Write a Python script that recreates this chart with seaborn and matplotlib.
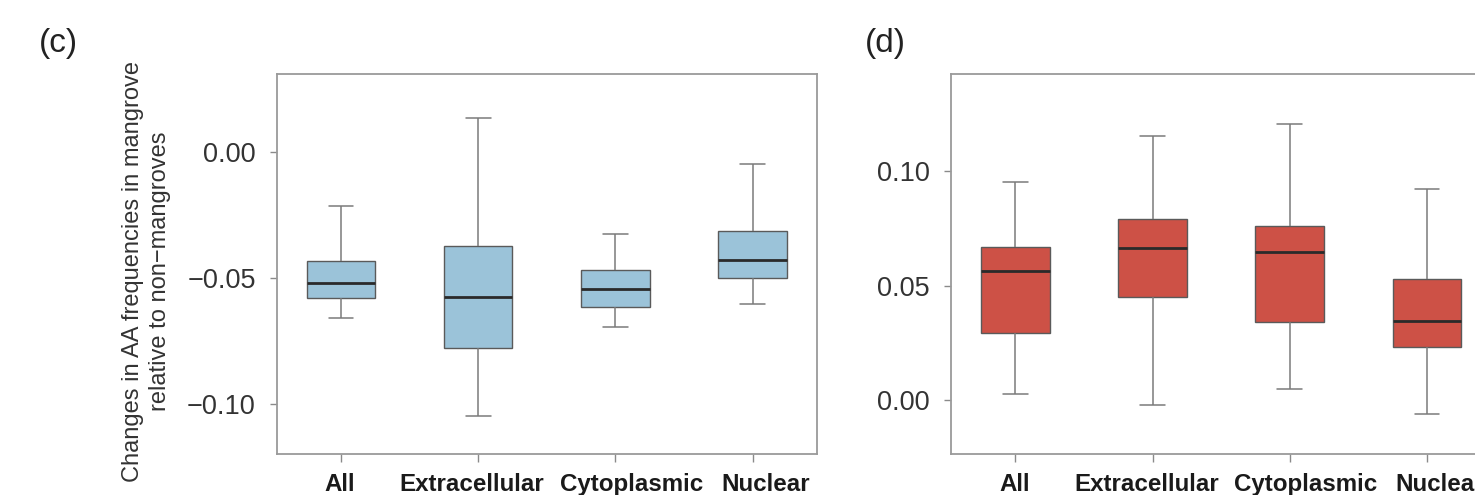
import numpy as np
import pandas as pd
import matplotlib
matplotlib.use("Agg")
import matplotlib.pyplot as plt
import matplotlib.transforms as mtransforms
import seaborn as sns

categories = ["All", "Extracellular", "Cytoplasmic", "Nuclear"]

# Panel (c): five-number summaries
c_low = [-0.0656, -0.1046, -0.0692, -0.0603]
c_q1 = [-0.0579, -0.0779, -0.0614, -0.0500]
c_med = [-0.0520, -0.0573, -0.0544, -0.0427]
c_q3 = [-0.0431, -0.0372, -0.0467, -0.0313]
c_high = [-0.0213, 0.0138, -0.0325, -0.0045]

# Panel (d)
d_low = [0.0026, -0.0018, 0.0048, -0.0061]
d_q1 = [0.0293, 0.0452, 0.0344, 0.0233]
d_med = [0.0563, 0.0667, 0.0646, 0.0347]
d_q3 = [0.0671, 0.0792, 0.0759, 0.0530]
d_high = [0.0953, 0.1153, 0.1205, 0.0921]

c_ticks = [0.00, -0.05, -0.10]
d_ticks = [0.00, 0.05, 0.10]

ylabel = "Changes in AA frequencies in mangrove\nrelative to non\u2212mangroves"

# small horizontal nudges (pixels) of the category labels, as in the source
label_nudge_px = [-1, -6, 16, 13]


def long_frame(low, q1, med, q3, high):
    rows = []
    for i, cat in enumerate(categories):
        for v in (low[i], q1[i], med[i], q3[i], high[i]):
            rows.append({"cat": cat, "val": v})
    return pd.DataFrame(rows)


df_c = long_frame(c_low, c_q1, c_med, c_q3, c_high)
df_d = long_frame(d_low, d_q1, d_med, d_q3, d_high)

sns.set_style("white")
plt.rcParams["font.family"] = ["Liberation Sans", "DejaVu Sans"]

fig = plt.figure(figsize=(14.75, 4.95), dpi=100)
ax_c = fig.add_axes([0.1875, 0.0828, 0.3664, 0.7677])
ax_d = fig.add_axes([0.6447, 0.0828, 0.3664, 0.7677])


def draw(ax, df, color, ylim, ticks):
    sns.boxplot(
        data=df, x="cat", y="val", order=categories, ax=ax,
        color=color, saturation=1, width=0.5, whis=(0, 100),
        linecolor="#5a5a5a", linewidth=1.0,
        boxprops=dict(edgecolor="#5a5a5a", linewidth=1.0),
        whiskerprops=dict(color="#7a7a7a", linewidth=1.1),
        capprops=dict(color="#7a7a7a", linewidth=1.1),
        medianprops=dict(color="#2a2a2a", linewidth=2.0),
        capwidths=0.18,
    )
    ax.set_xlim(-0.47, 3.47)
    ax.set_ylim(*ylim)
    ax.set_yticks(ticks)
    ax.set_yticklabels([f"{t:.2f}".replace("-", "\u2212") for t in ticks])
    ax.set_xticks(range(len(categories)))
    ax.set_xticklabels(categories)
    ax.set_xlabel("")
    ax.set_ylabel("")
    for s in ax.spines.values():
        s.set_visible(True)
        s.set_color("#9a9a9a")
        s.set_linewidth(1.3)
    ax.tick_params(axis="y", which="major", left=True, length=5, width=1,
                   color="#8a8a8a", labelsize=19.5, labelcolor="#333333", pad=10)
    ax.tick_params(axis="x", which="major", bottom=True, length=6, width=1,
                   color="#8a8a8a", labelsize=17.4, labelcolor="#1a1a1a", pad=8)
    for lab, dx in zip(ax.get_xticklabels(), label_nudge_px):
        lab.set_fontweight("bold")
        off = mtransforms.ScaledTranslation(dx / 100.0, 0, fig.dpi_scale_trans)
        lab.set_transform(lab.get_transform() + off)
    ax.grid(False)


draw(ax_c, df_c, "#9bc3d9", (-0.1198, 0.0311), c_ticks)
draw(ax_d, df_d, "#cd5146", (-0.0234, 0.1424), d_ticks)

ax_c.set_ylabel(ylabel, fontsize=17, color="#333333", linespacing=1.32)
ax_c.yaxis.set_label_coords(-0.195, 0.48)

fig.text(0.0264, 0.912, "(c)", fontsize=24, color="#222222", ha="left", va="center")
fig.text(0.5864, 0.912, "(d)", fontsize=24, color="#222222", ha="left", va="center")

fig.savefig("out.png", dpi=100, facecolor="white")
